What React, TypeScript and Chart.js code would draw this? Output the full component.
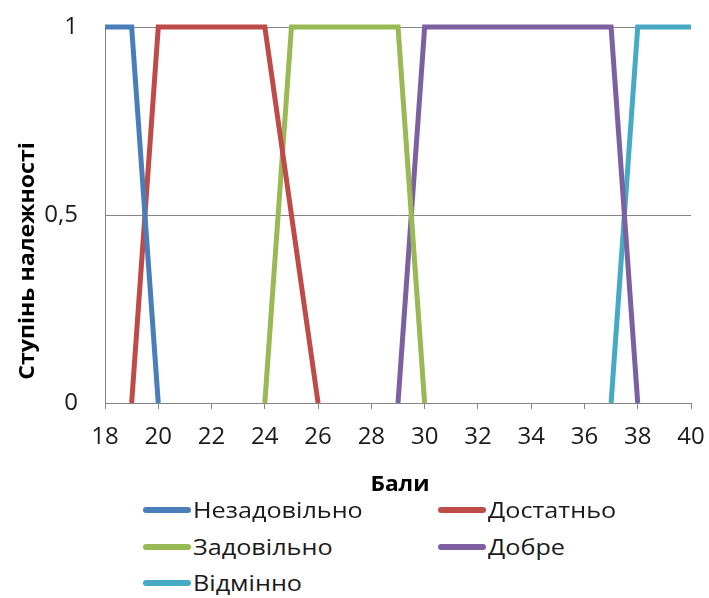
import React, { useEffect, useRef } from "react";
import { Chart, registerables } from "chart.js";

Chart.register(...registerables);

const seriesNames = ["Незадовільно", "Достатньо", "Задовільно", "Добре", "Відмінно"];
const seriesColors = ["#4A7EBB", "#BE4B48", "#98B954", "#7D60A0", "#46AAC5"];

const xNezadovilno = [18, 19, 20];
const yNezadovilno = [1, 1, 0];
const xDostatno = [19, 20, 24, 26];
const yDostatno = [0, 1, 1, 0];
const xZadovilno = [24, 25, 29, 30];
const yZadovilno = [0, 1, 1, 0];
const xDobre = [29, 30, 37, 38];
const yDobre = [0, 1, 1, 0];
const xVidminno = [37, 38, 40];
const yVidminno = [0, 1, 1];

const xTitle = "Бали";
const yTitle = "Ступінь належності";

const FONT = "'Open Sans', sans-serif";

const seriesX = [xNezadovilno, xDostatno, xZadovilno, xDobre, xVidminno];
const seriesY = [yNezadovilno, yDostatno, yZadovilno, yDobre, yVidminno];

const titlesPlugin = {
  id: "titlesPlugin",
  afterDraw(chart: any) {
    const ctx = chart.ctx;
    ctx.save();
    ctx.font = `bold 21px ${FONT}`;
    ctx.fillStyle = "#000";
    ctx.textAlign = "center";
    ctx.textBaseline = "middle";
    ctx.save();
    ctx.translate(28, 261);
    ctx.rotate(-Math.PI / 2);
    ctx.scale(1.1, 1);
    ctx.fillText(yTitle, 0, 0);
    ctx.restore();
    ctx.save();
    ctx.translate(400, 485);
    ctx.scale(1.08, 1);
    ctx.fillText(xTitle, 0, 0);
    ctx.restore();
    ctx.restore();
  },
};

export default function App() {
  const ref = useRef<HTMLCanvasElement>(null);

  useEffect(() => {
    if (!ref.current) return;
    const chart = new Chart(ref.current, {
      type: "line",
      data: {
        datasets: seriesNames.map((name, i) => ({
          label: name,
          data: seriesX[i].map((x, j) => ({ x, y: seriesY[i][j] })),
          borderColor: seriesColors[i],
          backgroundColor: seriesColors[i],
          borderWidth: 5,
          pointRadius: 0,
          tension: 0,
          fill: false,
          clip: 10,
        })),
      },
      options: {
        animation: false,
        responsive: false,
        layout: { padding: { top: 27, right: 18, left: 0, bottom: 0 } },
        plugins: {
          legend: { display: false },
          tooltip: { enabled: false },
        },
        scales: {
          x: {
            type: "linear",
            min: 18,
            max: 40,
            ticks: {
              stepSize: 2,
              color: "#1a1a1a",
              font: { family: FONT, size: 24, lineHeight: 2.0 },
              padding: 4,
              maxRotation: 0,
            },
            grid: {
              display: true,
              drawOnChartArea: false,
              drawTicks: true,
              tickLength: 6,
              color: "#868686",
            },
            border: { display: true, color: "#868686" },
            afterFit(scale: any) {
              scale.height = 97;
            },
          },
          y: {
            type: "linear",
            min: 0,
            max: 1,
            ticks: {
              stepSize: 0.5,
              color: "#1a1a1a",
              font: { family: FONT, size: 24 },
              padding: 12,
              callback: (v: any) => String(v).replace(".", ","),
            },
            grid: {
              display: true,
              drawOnChartArea: true,
              drawTicks: true,
              tickLength: 15,
              tickColor: "rgba(0,0,0,0)",
              color: "#868686",
            },
            border: { display: true, color: "#868686" },
            afterFit(scale: any) {
              scale.width = 105;
            },
          },
        },
      },
      plugins: [titlesPlugin],
    } as any);
    return () => chart.destroy();
  }, []);

  const legendPos = [
    { left: 143, top: 510 },
    { left: 438, top: 510 },
    { left: 143, top: 547 },
    { left: 438, top: 547 },
    { left: 143, top: 583 },
  ];

  return (
    <div
      style={{
        position: "fixed",
        left: 0,
        top: 0,
        width: 709,
        height: 598,
        background: "#fff",
        overflow: "hidden",
      }}
    >
      <canvas ref={ref} width={709} height={500} style={{ display: "block" }} />
      {seriesNames.map((name, i) => (
        <div
          key={name}
          style={{
            position: "absolute",
            left: legendPos[i].left,
            top: legendPos[i].top - 15,
            height: 30,
            display: "flex",
            alignItems: "center",
            fontFamily: FONT,
            fontSize: 21,
            color: "#1a1a1a",
            whiteSpace: "nowrap",
          }}
        >
          <div
            style={{
              width: 48,
              height: 6,
              borderRadius: 3,
              background: seriesColors[i],
              marginRight: 2,
            }}
          />
          <span style={{ display: "inline-block", transform: "scaleX(1.2)", transformOrigin: "left center" }}>
            {name}
          </span>
        </div>
      ))}
    </div>
  );
}
